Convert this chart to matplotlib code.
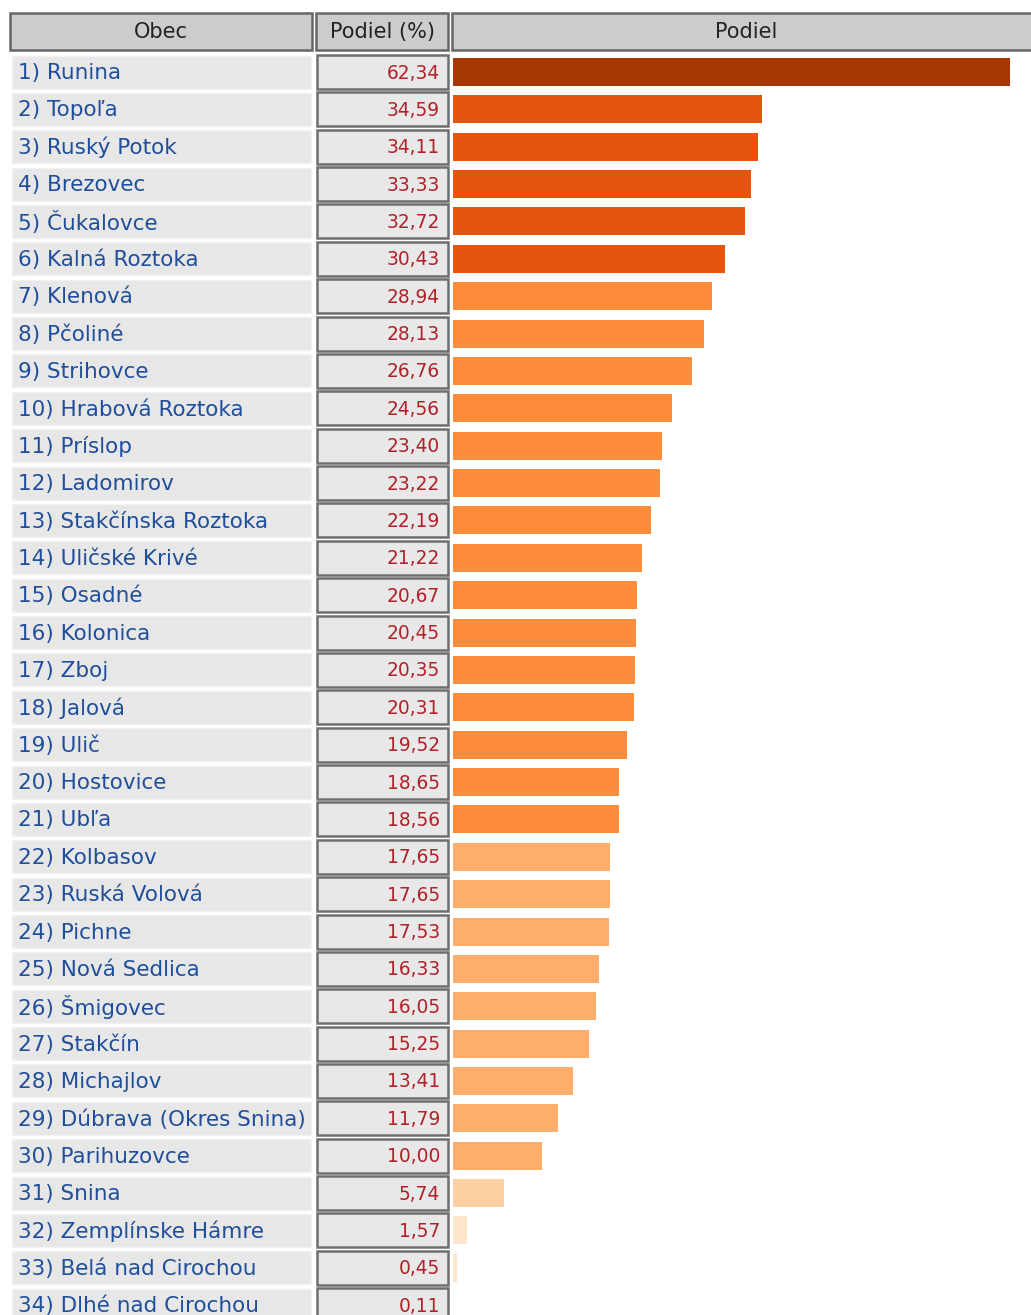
import matplotlib.pyplot as plt
from matplotlib.patches import Rectangle

# data
obce = ["Runina", "Topoľa", "Ruský Potok", "Brezovec", "Čukalovce", "Kalná Roztoka",
        "Klenová", "Pčoliné", "Strihovce", "Hrabová Roztoka", "Príslop", "Ladomirov",
        "Stakčínska Roztoka", "Uličské Krivé", "Osadné", "Kolonica", "Zboj", "Jalová",
        "Ulič", "Hostovice", "Ubľa", "Kolbasov", "Ruská Volová", "Pichne",
        "Nová Sedlica", "Šmigovec", "Stakčín", "Michajlov", "Dúbrava (Okres Snina)",
        "Parihuzovce", "Snina", "Zemplínske Hámre", "Belá nad Cirochou", "Dlhé nad Cirochou"]
podiel = [62.34, 34.59, 34.11, 33.33, 32.72, 30.43, 28.94, 28.13, 26.76, 24.56,
          23.40, 23.22, 22.19, 21.22, 20.67, 20.45, 20.35, 20.31, 19.52, 18.65,
          18.56, 17.65, 17.65, 17.53, 16.33, 16.05, 15.25, 13.41, 11.79, 10.00,
          5.74, 1.57, 0.45, 0.11]
headers = ["Obec", "Podiel (%)", "Podiel"]


def bar_color(v):
    if v > 40:
        return "#a63603"
    if v > 30:
        return "#e6550d"
    if v > 18:
        return "#fd8d3c"
    if v >= 10:
        return "#fdae6b"
    if v > 5:
        return "#fdd0a2"
    return "#fee6ce"


W, H = 1031, 1315
Y0, P = 72, 37.37  # first row centre and row pitch in pixels
X_BAR, PX_PER_UNIT = 452.5, 8.95

fig = plt.figure(figsize=(W / 100, H / 100), dpi=100)
fig.patch.set_facecolor("white")

# table background in pixel coordinates
tab = fig.add_axes([0, 0, 1, 1])
tab.set_xlim(0, W)
tab.set_ylim(H, 0)
tab.axis("off")

# header cells
for (x0, x1), txt in zip([(10, 312), (316, 448), (452, 1040)], headers):
    tab.add_patch(Rectangle((x0, 13), x1 - x0, 37, facecolor="#cccccc",
                            edgecolor="#666666", lw=1.8))
    tab.text((x0 + x1) / 2 if x1 < 1000 else 746, 32, txt, ha="center", va="center",
             fontsize=15, color="#222222")

for i, (name, v) in enumerate(zip(obce, podiel)):
    yc = Y0 + i * P
    tab.add_patch(Rectangle((12, yc - 16.5), 299, 33, facecolor="#e7e7e7",
                            edgecolor="#f2f2f2", lw=1))
    tab.add_patch(Rectangle((317, yc - 17), 131, 34, facecolor="#e8e8e8",
                            edgecolor="#6e6e6e", lw=1.8))
    tab.text(18, yc + 1, "%d) %s" % (i + 1, name), ha="left", va="center",
             fontsize=15.5, color="#1f4e9a")
    tab.text(440, yc + 1, ("%.2f" % v).replace(".", ","), ha="right", va="center",
             fontsize=13.4, color="#b22028")

# bars on their own axes, x in percent, y in row index
ax = fig.add_axes([X_BAR / W, 0, (W - X_BAR) / W, 1])
ax.set_xlim(0, (W - X_BAR) / PX_PER_UNIT)
ax.set_ylim((H - Y0) / P, -Y0 / P)
ax.axis("off")
ax.patch.set_alpha(0)
ax.barh(range(len(podiel)), podiel, height=28 / P,
        color=[bar_color(v) for v in podiel], edgecolor="none")

fig.savefig("out.png", dpi=100)
